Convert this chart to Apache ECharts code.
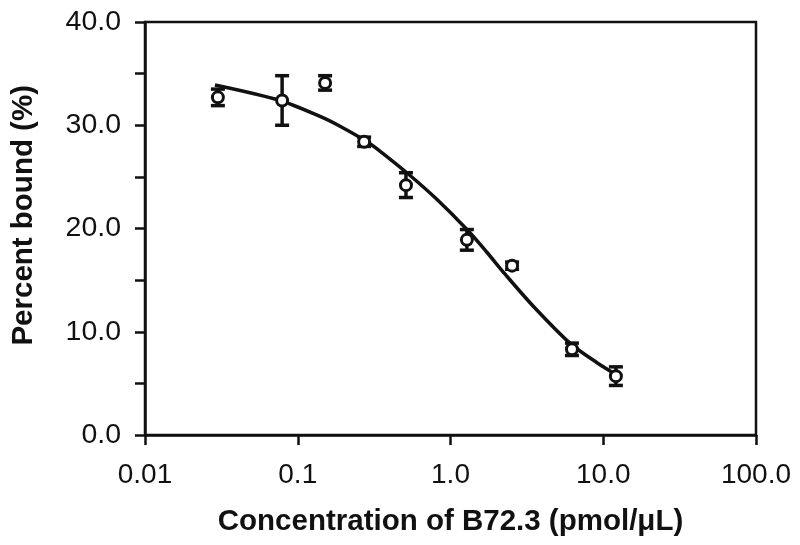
<!DOCTYPE html>
<html>
<head>
<meta charset="utf-8">
<script src="https://cdn.jsdelivr.net/npm/echarts@6/dist/echarts.min.js"></script>
<style>
  html, body { margin: 0; padding: 0; background: #fff; }
  #chart { width: 800px; height: 545px; }
</style>
</head>
<body>
<div id="chart"></div>
<script>
// measured points (concentration, percent bound, half error bar)
var concX = [0.030, 0.079, 0.151, 0.272, 0.511, 1.28, 2.53, 6.24, 12.1];
var boundY = [32.7, 32.4, 34.1, 28.4, 24.2, 18.9, 16.4, 8.3, 5.7];
var boundErr = [0.8, 2.4, 0.7, 0.45, 1.2, 1.0, 0.35, 0.6, 0.9];

// fitted curve
var curveX = [0.0287, 0.0766, 0.14, 0.189, 0.284, 0.345, 0.527, 0.817, 1.30, 1.73, 2.27, 3.47, 6.05, 9.1, 12.3];
var curveY = [33.9, 32.4, 30.85, 29.9, 28.4, 27.5, 25.3, 22.8, 19.8, 17.7, 15.6, 12.5, 8.9, 7.0, 5.8];

var xTickLabels = ['0.01', '0.1', '1.0', '10.0', '100.0'];

var font = '"Liberation Sans", Arial, Helvetica, sans-serif';
var ink = '#111';

var chart = echarts.init(document.getElementById('chart'));

var points = concX.map(function (x, i) { return [x, boundY[i]]; });
var bars = concX.map(function (x, i) { return [x, boundY[i] - boundErr[i], boundY[i] + boundErr[i]]; });
var curve = curveX.map(function (x, i) { return [x, curveY[i]]; });

var option = {
  backgroundColor: '#fff',
  animation: false,
  grid: {
    left: 145, right: 44, top: 22, bottom: 110,
    show: true, borderColor: ink, borderWidth: 2.5
  },
  xAxis: {
    type: 'log',
    logBase: 10,
    min: 0.01,
    max: 100,
    name: 'Concentration of B72.3 (pmol/μL)',
    nameLocation: 'middle',
    nameGap: 72,
    nameTextStyle: { fontFamily: font, fontSize: 29.5, fontWeight: 'bold', color: ink },
    axisLine: { lineStyle: { color: ink, width: 2.5 } },
    axisTick: { show: true, length: 10, lineStyle: { color: ink, width: 2.5 } },
    axisLabel: {
      margin: 26,
      fontFamily: font, fontSize: 28, color: ink,
      formatter: function (v, idx) { return xTickLabels[idx]; }
    },
    splitLine: { show: false },
    minorTick: { show: false }
  },
  yAxis: {
    type: 'value',
    min: 0,
    max: 40,
    interval: 10,
    axisLine: { show: true, lineStyle: { color: ink, width: 2.5 } },
    axisTick: { show: true, length: 10, lineStyle: { color: ink, width: 2.5 } },
    minorTick: { show: true, splitNumber: 2, length: 10, lineStyle: { color: ink, width: 2.5 } },
    axisLabel: {
      margin: 24,
      fontFamily: font, fontSize: 28.5, color: ink,
      formatter: function (v) { return v.toFixed(1); }
    },
    splitLine: { show: false }
  },
  graphic: [{
    type: 'text',
    left: 9,
    top: 85,
    rotation: Math.PI / 2,
    style: {
      text: 'Percent bound (%)',
      font: 'bold 29.5px ' + font,
      fill: ink
    }
  }],
  series: [
    {
      name: 'fit',
      type: 'line',
      data: curve,
      smooth: 0.3,
      symbol: 'none',
      lineStyle: { color: ink, width: 3.5 },
      z: 2
    },
    {
      name: 'error',
      type: 'custom',
      data: bars,
      renderItem: function (params, api) {
        var x = api.value(0);
        var lo = api.coord([x, api.value(1)]);
        var hi = api.coord([x, api.value(2)]);
        var w = 7;
        var st = { stroke: ink, lineWidth: 3.5 };
        return {
          type: 'group',
          children: [
            { type: 'line', shape: { x1: lo[0], y1: lo[1], x2: hi[0], y2: hi[1] }, style: st },
            { type: 'line', shape: { x1: lo[0] - w, y1: lo[1], x2: lo[0] + w, y2: lo[1] }, style: st },
            { type: 'line', shape: { x1: hi[0] - w, y1: hi[1], x2: hi[0] + w, y2: hi[1] }, style: st }
          ]
        };
      },
      z: 3
    },
    {
      name: 'data',
      type: 'scatter',
      data: points,
      symbol: 'circle',
      symbolSize: 11,
      itemStyle: { color: '#fff', borderColor: ink, borderWidth: 3, opacity: 1 },
      z: 4
    }
  ]
};

chart.setOption(option);
</script>
</body>
</html>
